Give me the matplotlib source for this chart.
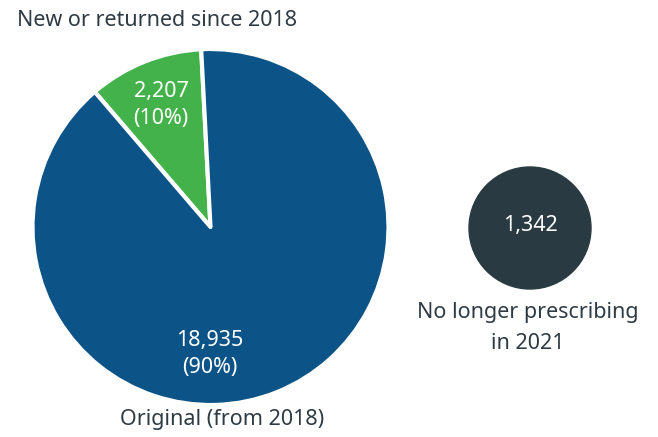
import matplotlib
matplotlib.use("Agg")
import matplotlib.pyplot as plt
from matplotlib.patches import Circle

categories = ["New or returned since 2018", "Original (from 2018)"]
values = [2207, 18935]
stopped_label = "No longer prescribing\nin 2021"
stopped_value = 1342
colors = ["#44b24a", "#0c5387"]
dark = "#293a42"
txt = "#2f3b44"

plt.rcParams['font.family'] = ['Noto Sans', 'DejaVu Sans']

W, H = 658, 437
fig = plt.figure(figsize=(W / 100, H / 100), dpi=100)
ax = fig.add_axes([0, 0, 1, 1])

cx, cy, R = 210.5, H - 227, 178
total = sum(values)
ax.pie(values, colors=colors, startangle=93, counterclock=True,
       center=(cx, cy), radius=R, frame=True,
       wedgeprops=dict(edgecolor='white', linewidth=3, joinstyle='round'))
ax.set_xlim(0, W)
ax.set_ylim(0, H)
ax.set_aspect('equal')
ax.axis('off')

fs = 15.5
pcts = [round(v / total * 100) for v in values]
ax.text(161, H - 105, f"{values[0]:,}\n({pcts[0]}%)", color='white', fontsize=fs,
        ha='center', va='center', linespacing=1.4)
ax.text(210, H - 354, f"{values[1]:,}\n({pcts[1]}%)", color='white', fontsize=fs,
        ha='center', va='center', linespacing=1.4)
ax.text(157, H - 21, categories[0], color=txt, fontsize=fs, ha='center', va='center')
ax.text(222, H - 420, categories[1], color=txt, fontsize=fs, ha='center', va='center')

ax.add_patch(Circle((530, H - 228), 61, color=dark))
ax.text(530, H - 226, f"{stopped_value:,}", color='white', fontsize=fs, ha='center', va='center')
ax.text(528, H - 328, stopped_label, color=txt, fontsize=fs, ha='center', va='center',
        linespacing=1.6)

fig.savefig("out.png", dpi=100)
